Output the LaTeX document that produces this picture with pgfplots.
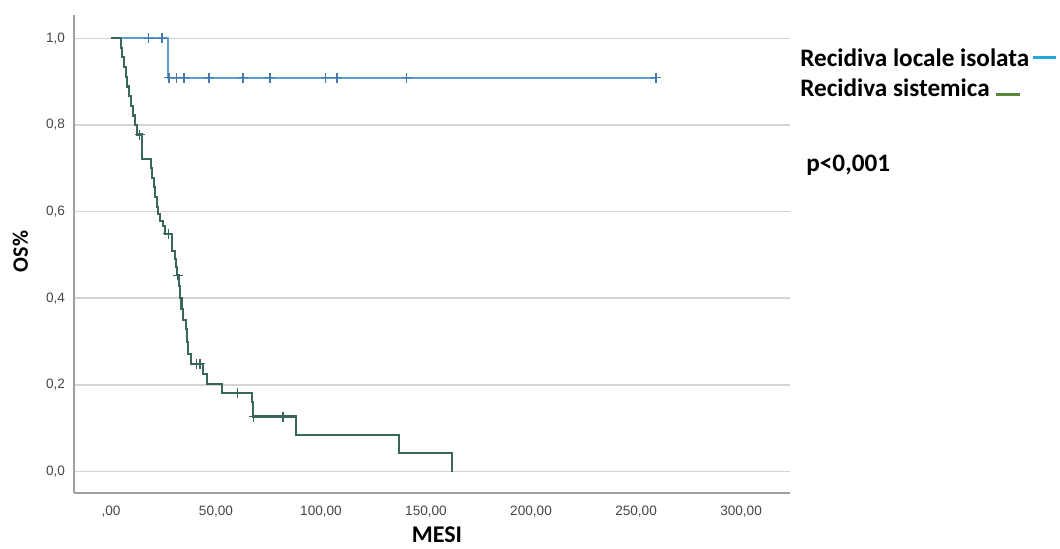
\documentclass[border=0pt]{standalone}
\usepackage{pgfplots}
\pgfplotsset{compat=1.18}
\usepackage{fontspec}
\setmainfont{Carlito}
\newfontfamily\tickf{Liberation Sans}
\definecolor{bluecurve}{RGB}{96,156,208}
\definecolor{bluemark}{RGB}{70,120,170}
\definecolor{greencurve}{RGB}{58,102,94}
\definecolor{legblue}{RGB}{40,165,218}
\definecolor{leggreen}{RGB}{88,134,60}
\definecolor{gridc}{RGB}{212,212,212}
\definecolor{axisc}{RGB}{160,160,160}
\definecolor{tickc}{RGB}{70,70,70}
\begin{document}
\begin{tikzpicture}
\path[use as bounding box] (0,0) rectangle (530pt,274.5pt);
\begin{axis}[
  at={(37pt,28pt)}, anchor=south west,
  scale only axis, width=358pt, height=239pt,
  xmin=-17.6, xmax=323.3, ymin=-0.0496, ymax=1.054,
  axis x line*=bottom, axis y line*=left,
  axis line style={axisc, line width=0.8pt, -},
  xtick={0,50,100,150,200,250,300},
  xticklabels={{,00},{50,00},{100,00},{150,00},{200,00},{250,00},{300,00}},
  ytick={0,0.2,0.4,0.6,0.8,1.0},
  yticklabels={{0,0},{0,2},{0,4},{0,6},{0,8},{1,0}},
  major tick length=0pt,
  ymajorgrids, grid style={gridc, line width=0.8pt},
  ticklabel style={font=\tickf\fontsize{6.8}{8}\selectfont, text=tickc},
  xticklabel style={yshift=-3pt},
  yticklabel style={xshift=-1pt},
  xlabel={MESI}, ylabel={OS\%},
  xlabel style={at={(axis description cs:0.507,0)}, anchor=center, yshift=-21pt, font=\bfseries\fontsize{12}{14}\selectfont},
  ylabel style={at={(axis description cs:-0.075,0.505)}, anchor=center, font=\bfseries\fontsize{11}{13}\selectfont},
  clip=false,
]
% Recidiva locale isolata
\addplot[const plot, bluecurve, line width=1.05pt] coordinates {
  (0,1.0) (27.0,0.909) (259.5,0.909)
};
\addplot[only marks, mark=+, mark size=2.5pt, bluemark, mark options={line width=0.7pt}] coordinates {
  (18,1.0) (24.3,1.0) (27.6,0.909) (31.3,0.909) (34.8,0.909) (46.7,0.909)
  (62.9,0.909) (75.7,0.909) (102.2,0.909) (107.6,0.909) (140.8,0.909) (259.5,0.909)
};
% Recidiva sistemica
\addplot[const plot, greencurve, line width=1.05pt] coordinates {
  (0,1.000) (4.6,0.978) (5.4,0.956) (6.2,0.933) (7.0,0.911) (7.8,0.889)
  (8.6,0.867) (9.4,0.844) (10.4,0.822) (11.4,0.800) (12.6,0.778) (14.6,0.722)
  (18.9,0.700) (19.6,0.678) (20.3,0.656) (21.0,0.633) (21.8,0.611) (22.6,0.595)
  (23.5,0.578) (24.6,0.566) (25.6,0.549) (28.9,0.529) (29.2,0.510) (30.5,0.490)
  (31.0,0.472) (31.3,0.453) (32.2,0.428) (32.9,0.400) (33.6,0.375) (34.4,0.349)
  (35.9,0.330) (36.4,0.300) (36.8,0.272) (38.0,0.249) (44.0,0.226) (45.6,0.203)
  (52.7,0.181) (67.0,0.160) (67.8,0.127) (88.1,0.085) (137.1,0.042) (162.5,0.000)
};
\addplot[only marks, mark=+, mark size=2.5pt, greencurve, mark options={line width=0.7pt}] coordinates {
  (13.6,0.778) (27.3,0.549) (31.7,0.453) (40.8,0.249) (42.4,0.249)
  (60.3,0.181) (67.9,0.127) (82.0,0.127)
};
\end{axis}
% legend and annotation
\node[anchor=west, inner sep=0pt, font=\bfseries\fontsize{12.6}{14}\selectfont] at (400pt,245.5pt) {Recidiva locale isolata};
\draw[legblue, line width=1.5pt] (516.5pt,245.5pt) -- (528pt,245.5pt);
\node[anchor=west, inner sep=0pt, font=\bfseries\fontsize{12.6}{14}\selectfont] at (400pt,230.5pt) {Recidiva sistemica};
\draw[leggreen, line width=1.5pt] (498pt,227pt) -- (510pt,227pt);
\node[anchor=west, inner sep=0pt, font=\bfseries\fontsize{12.6}{14}\selectfont] at (403pt,192pt) {p<0,001};
\end{tikzpicture}
\end{document}
